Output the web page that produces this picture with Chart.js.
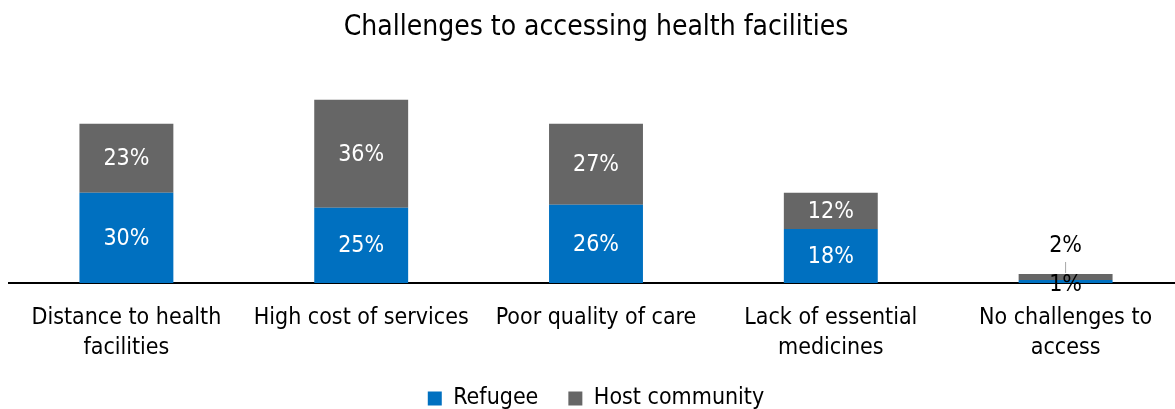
<!DOCTYPE html>
<html>
<head>
<meta charset="utf-8">
<script src="https://cdn.jsdelivr.net/npm/chart.js@4/dist/chart.umd.min.js"></script>
<style>
  html, body { margin: 0; padding: 0; background: #fff; overflow: hidden; }
  #wrap { width: 1183px; height: 420px; }
</style>
</head>
<body>
<div id="wrap"><canvas id="chart" width="1183" height="420"></canvas></div>
<script>
const categories = [
  ["Distance to health", "facilities"],
  ["High cost of services"],
  ["Poor quality of care"],
  ["Lack of essential", "medicines"],
  ["No challenges to", "access"]
];
const refugeeValues = [30, 25, 26, 18, 1];
const hostValues = [23, 36, 27, 12, 2];
const seriesNames = ["Refugee", "Host community"];

const FONT = "'DejaVu Sans Condensed', 'DejaVu Sans', sans-serif";

// percentage labels inside each segment; tiny segments get their label outside
const segmentLabels = {
  id: "segmentLabels",
  afterDatasetsDraw(chart) {
    const { ctx } = chart;
    ctx.save();
    ctx.font = "23px " + FONT;
    ctx.textAlign = "center";
    ctx.textBaseline = "middle";
    chart.data.datasets.forEach((ds, di) => {
      const meta = chart.getDatasetMeta(di);
      meta.data.forEach((bar, i) => {
        const text = ds.data[i] + "%";
        const top = Math.min(bar.y, bar.base);
        const bottom = Math.max(bar.y, bar.base);
        if (bottom - top > 24) {
          ctx.fillStyle = "#fff";
          ctx.fillText(text, bar.x, (top + bottom) / 2 + 1);
        } else if (di === 0) {
          ctx.fillStyle = "#000";
          ctx.fillText(text, bar.x, bottom + 2);
        } else {
          ctx.strokeStyle = "#a6a6a6";
          ctx.lineWidth = 1;
          ctx.beginPath();
          ctx.moveTo(bar.x, top - 1);
          ctx.lineTo(bar.x, top - 12);
          ctx.stroke();
          ctx.fillStyle = "#000";
          ctx.fillText(text, bar.x, top - 28);
        }
      });
    });
    ctx.restore();
  }
};

new Chart(document.getElementById("chart"), {
  type: "bar",
  data: {
    labels: categories,
    datasets: [
      {
        label: seriesNames[0],
        data: refugeeValues,
        backgroundColor: "#0070c0",
        categoryPercentage: 1,
        barPercentage: 0.4
      },
      {
        label: seriesNames[1],
        data: hostValues,
        backgroundColor: "#666666",
        categoryPercentage: 1,
        barPercentage: 0.4
      }
    ]
  },
  options: {
    responsive: false,
    animation: false,
    layout: { padding: { left: 9, right: 0, top: 0, bottom: 0 } },
    plugins: {
      title: {
        display: true,
        text: "Challenges to accessing health facilities",
        color: "#000",
        font: { family: FONT, size: 28, weight: "normal" },
        padding: { top: 11, bottom: 28 }
      },
      legend: {
        position: "bottom",
        labels: {
          color: "#000",
          font: { family: FONT, size: 23 },
          boxWidth: 14,
          boxHeight: 14,
          padding: 30
        }
      },
      tooltip: { enabled: false }
    },
    scales: {
      x: {
        stacked: true,
        grid: { display: false, drawTicks: false },
        border: { display: true, color: "#000", width: 2 },
        ticks: {
          color: "#000",
          padding: 20,
          maxRotation: 0,
          autoSkip: false,
          font: { family: FONT, size: 23, lineHeight: 30 / 23 }
        },
        afterFit(scale) {
          scale.height = 74;
        }
      },
      y: {
        stacked: true,
        display: false,
        min: 0,
        max: 70
      }
    }
  },
  plugins: [segmentLabels]
});
</script>
</body>
</html>
